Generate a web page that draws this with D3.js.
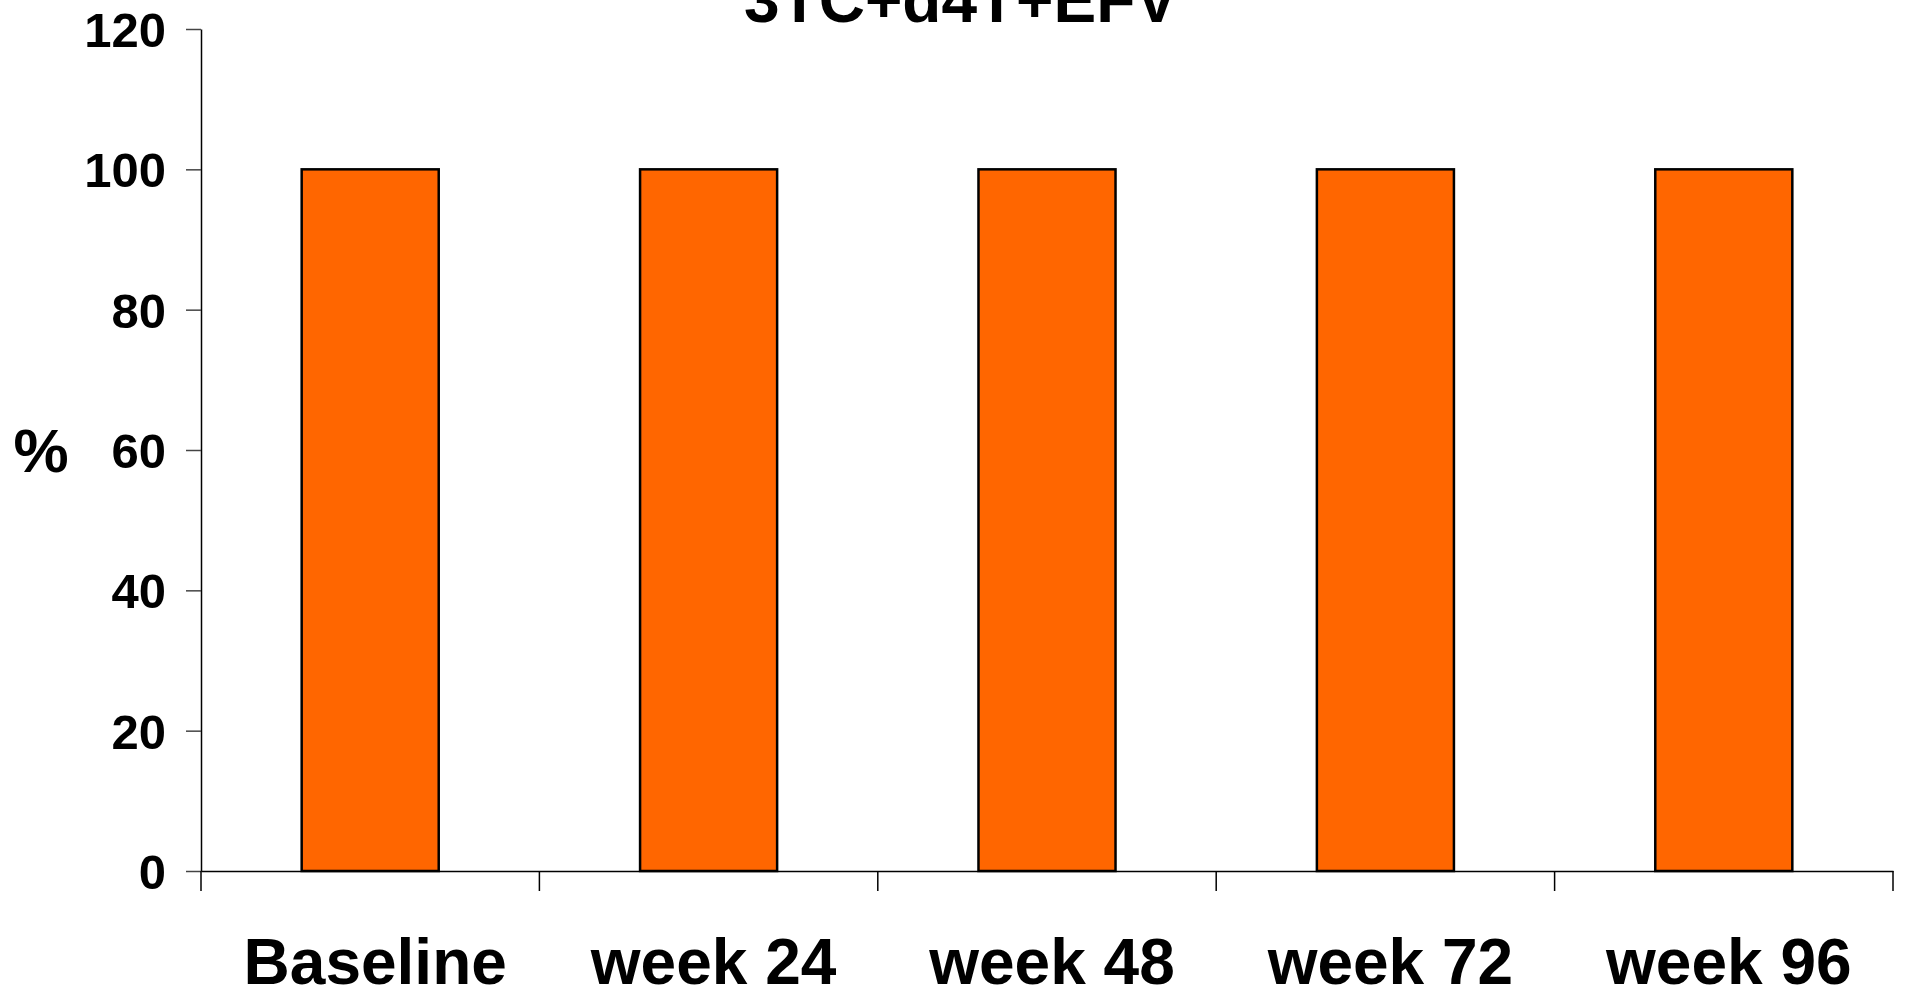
<!DOCTYPE html>
<html>
<head>
<meta charset="utf-8">
<script src="https://cdn.jsdelivr.net/npm/d3@7/dist/d3.min.js"></script>
<style>
  html, body { margin: 0; padding: 0; background: #fff; }
  svg { display: block; font-family: "Liberation Sans", Arial, sans-serif; font-weight: bold; }
</style>
</head>
<body>
<svg id="chart" width="1907" height="992"></svg>
<script>
// Chart data
const title = "3TC+d4T+EFV";
const categories = ["Baseline", "week 24", "week 48", "week 72", "week 96"];
const values = [100, 100, 100, 100, 100];
const yTicks = [0, 20, 40, 60, 80, 100, 120];
const yLabel = "%";

const svg = d3.select("#chart");
const plot = { left: 201, right: 1893, top: 29, bottom: 871 };

const x = d3.scaleBand()
  .domain(categories)
  .range([plot.left, plot.right])
  .padding(0);

const y = d3.scaleLinear()
  .domain([0, 120])
  .range([plot.bottom, plot.top]);

const barW = x.bandwidth() * 0.405;

// Bars
svg.append("g")
  .selectAll("rect")
  .data(categories.map((c, i) => ({ c, v: values[i] })))
  .join("rect")
  .attr("x", d => x(d.c) + (x.bandwidth() - barW) / 2)
  .attr("y", d => y(d.v))
  .attr("width", barW)
  .attr("height", d => y(0) - y(d.v))
  .attr("fill", "#FF6600")
  .attr("stroke", "#000")
  .attr("stroke-width", 2.5);

// Y axis
const yAxis = svg.append("g")
  .attr("transform", `translate(${plot.left},0)`)
  .call(d3.axisLeft(y).tickValues(yTicks).tickSize(15).tickPadding(20).tickSizeOuter(0));
yAxis.select(".domain").attr("stroke", "#000").attr("stroke-width", 1.5);
yAxis.selectAll(".tick line").attr("stroke", "#444").attr("stroke-width", 1.5);
yAxis.selectAll(".tick text")
  .attr("fill", "#000")
  .style("font-size", "49px")
  .style("font-weight", "bold")
  .style("font-family", "'Liberation Sans', Arial, sans-serif")
  .attr("dy", "0.36em");

// X axis: baseline, boundary ticks and category labels
const xAxis = svg.append("g")
  .attr("transform", `translate(0,${plot.bottom})`)
  .call(d3.axisBottom(x).tickSize(0).tickPadding(0).tickSizeOuter(0));
xAxis.select(".domain").attr("stroke", "#000").attr("stroke-width", 1.5);
xAxis.selectAll(".tick text")
  .attr("fill", "#000")
  .attr("x", 5)
  .attr("y", 113)
  .attr("dy", 0)
  .style("font-size", "64px")
  .style("font-weight", "bold")
  .style("font-family", "'Liberation Sans', Arial, sans-serif");

const bounds = categories.map(c => x(c)).concat([x.range()[1]]);
xAxis.selectAll("line.bound")
  .data(bounds)
  .join("line")
  .attr("class", "bound")
  .attr("x1", d => d).attr("x2", d => d)
  .attr("y1", 0).attr("y2", 20)
  .attr("stroke", "#000")
  .attr("stroke-width", 1.5);

// Axis title
svg.append("text")
  .attr("x", 41)
  .attr("y", y(60))
  .attr("dy", "0.36em")
  .attr("text-anchor", "middle")
  .style("font-size", "62px")
  .text(yLabel);

// Chart title
svg.append("text")
  .attr("x", 961)
  .attr("y", 22)
  .attr("text-anchor", "middle")
  .style("font-size", "64px")
  .text(title);
</script>
</body>
</html>
